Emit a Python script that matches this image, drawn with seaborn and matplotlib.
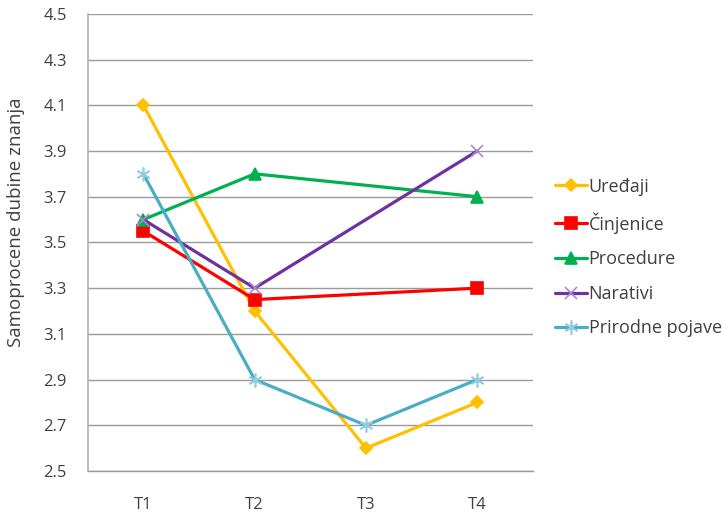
import numpy as np
import pandas as pd
import matplotlib
matplotlib.use("Agg")
import matplotlib.pyplot as plt
import seaborn as sns

categories = ["T1", "T2", "T3", "T4"]
uredjaji = [4.1, 3.2, 2.6, 2.8]
cinjenice = [3.55, 3.25, np.nan, 3.3]
procedure = [3.6, 3.8, np.nan, 3.7]
narativi = [3.6, 3.3, np.nan, 3.9]
prirodne = [3.8, 2.9, 2.7, 2.9]
series_names = ["Uređaji", "Činjenice", "Procedure", "Narativi", "Prirodne pojave"]
series_values = [uredjaji, cinjenice, procedure, narativi, prirodne]
y_ticks = [2.5, 2.7, 2.9, 3.1, 3.3, 3.5, 3.7, 3.9, 4.1, 4.3, 4.5]

colors = ["#FFC000", "#FF0000", "#00B050", "#7030A0", "#4BACC6"]
marker_colors = ["#FFC000", "#FF0000", "#00B050", "#A98BC9", "#93CDDD"]
markers = ["D", "s", "^", "x", (6, 2, 0)]
msizes = [6, 9, 8, 9, 10]

sns.set_theme(style="white")
plt.rcParams["font.family"] = ["Open Sans", "DejaVu Sans"]

fig = plt.figure(figsize=(7.25, 5.12), dpi=100)
ax = fig.add_axes([0.121, 0.080, 0.614, 0.893])

x = np.arange(len(categories))
rows = []
for name, vals in zip(series_names, series_values):
    for xi, v in zip(x, vals):
        rows.append({"x": xi, "y": v, "serie": name})
df = pd.DataFrame(rows).dropna()

for i, name in enumerate(series_names):
    sub = df[df["serie"] == name]
    sns.lineplot(data=sub, x="x", y="y", ax=ax, color=colors[i], linewidth=2.3,
                 marker=markers[i], markersize=msizes[i],
                 markerfacecolor=marker_colors[i], markeredgecolor=marker_colors[i],
                 markeredgewidth=1.2, label=name, estimator=None, sort=False)

ax.set_xlim(-0.5, 3.5)
ax.set_ylim(2.5, 4.5)
ax.set_yticks(y_ticks)
ax.set_yticklabels([f"{v:.1f}" for v in y_ticks])
ax.set_xticks(x)
ax.set_xticklabels(categories)
ax.set_xticks(np.arange(-0.5, 4.0, 1.0), minor=True)
ax.tick_params(axis="x", which="major", length=0, pad=19, labelsize=12, labelcolor="#404040")
ax.tick_params(axis="x", which="minor", length=6, width=1, color="#9a9a9a", direction="out")
ax.tick_params(axis="y", which="major", length=6, width=1, color="#9a9a9a", direction="out",
               labelsize=12, labelcolor="#404040", pad=9)
ax.grid(axis="y", color="#9a9a9a", linewidth=1)
ax.set_axisbelow(True)
for s in ["top", "right"]:
    ax.spines[s].set_visible(False)
ax.spines["left"].set_color("#b0b0b0")
ax.spines["left"].set_linewidth(1.2)
ax.spines["bottom"].set_color("#9a9a9a")
ax.spines["bottom"].set_linewidth(1)
ax.set_xlabel("")
ax.set_ylabel("Samoprocene dubine znanja", fontsize=13.5, color="#404040")
ax.yaxis.set_label_coords(-0.142, 0.545)

leg = ax.legend(loc="center left", bbox_to_anchor=(1.034, 0.467), frameon=False,
                fontsize=13, handlelength=1.75, handletextpad=0.1, labelspacing=0.92,
                borderaxespad=0)
for t in leg.get_texts():
    t.set_color("#404040")

fig.savefig("out.png", dpi=100)
